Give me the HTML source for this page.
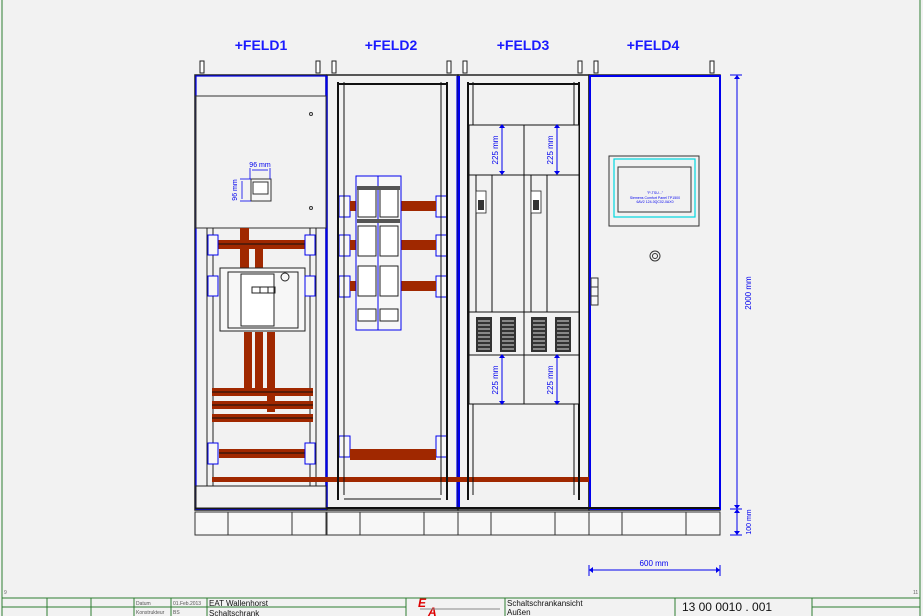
<!DOCTYPE html>
<html><head><meta charset="utf-8"><style>
html,body{margin:0;padding:0;background:#f2f2f2;}
svg{display:block;font-family:"Liberation Sans",sans-serif;}
</style></head><body>
<svg width="923" height="616" viewBox="0 0 923 616" xmlns="http://www.w3.org/2000/svg">
<rect width="923" height="616" fill="#f2f2f2"/>
<line x1="2" y1="0" x2="2" y2="616" stroke="#2e7d32" stroke-width="1"/>
<line x1="920" y1="0" x2="920" y2="616" stroke="#2e7d32" stroke-width="1"/>
<text x="4" y="594" font-size="5" fill="#666">9</text>
<text x="913" y="594" font-size="5" fill="#666">11</text>
<g fill="#1a1aff" font-size="14" font-weight="bold" text-anchor="middle">
<text x="261" y="50">+FELD1</text><text x="391" y="50">+FELD2</text>
<text x="523" y="50">+FELD3</text><text x="653" y="50">+FELD4</text>
</g>
<g fill="#fff" stroke="#222" stroke-width="1">
<rect x="200" y="61" width="4" height="12"/><rect x="316" y="61" width="4" height="12"/>
<rect x="332" y="61" width="4" height="12"/><rect x="447" y="61" width="4" height="12"/>
<rect x="463" y="61" width="4" height="12"/><rect x="578" y="61" width="4" height="12"/>
<rect x="594" y="61" width="4" height="12"/><rect x="710" y="61" width="4" height="12"/>
</g>
<g fill="#f7f7f7" stroke="#333" stroke-width="1">
<rect x="195" y="512" width="131" height="23"/><rect x="327" y="512" width="131" height="23"/>
<rect x="458" y="512" width="131" height="23"/><rect x="589" y="512" width="131" height="23"/>
</g>
<g stroke="#333" stroke-width="1">
<line x1="228" y1="512" x2="228" y2="535"/><line x1="292" y1="512" x2="292" y2="535"/>
<line x1="360" y1="512" x2="360" y2="535"/><line x1="424" y1="512" x2="424" y2="535"/>
<line x1="491" y1="512" x2="491" y2="535"/><line x1="555" y1="512" x2="555" y2="535"/>
<line x1="622" y1="512" x2="622" y2="535"/><line x1="686" y1="512" x2="686" y2="535"/>
</g>
<g fill="#f2f2f2" stroke="#222" stroke-width="1.5">
<rect x="195" y="75" width="131" height="435"/>
<rect x="327" y="75" width="131" height="435"/>
<rect x="458" y="75" width="131" height="435"/>
<rect x="589" y="75" width="131" height="435"/>
</g>
<g fill="none" stroke="#0000ee" stroke-width="1.2">
<rect x="196" y="76" width="130" height="433"/>
<line x1="327" y1="76" x2="327" y2="509"/><line x1="457" y1="76" x2="457" y2="509"/>
<rect x="590" y="76" width="130" height="433" stroke-width="2"/>
<line x1="459" y1="76" x2="459" y2="509" stroke-width="2"/>
</g>
<line x1="195" y1="508" x2="720" y2="508" stroke="#111" stroke-width="2"/>
<line x1="196" y1="96" x2="326" y2="96" stroke="#333"/>
<rect x="196" y="96" width="130" height="132" fill="#f2f2f2" stroke="#333"/>
<circle cx="311" cy="114" r="1.5" fill="none" stroke="#333"/><circle cx="311" cy="208" r="1.5" fill="none" stroke="#333"/>
<rect x="251" y="179" width="20" height="22" fill="#f7f7f7" stroke="#333"/>
<rect x="253" y="182" width="15" height="12" fill="#fff" stroke="#333"/>
<g stroke="#0000ee" fill="none" stroke-width="0.8">
<line x1="250" y1="168" x2="250" y2="179"/><line x1="270" y1="168" x2="270" y2="179"/>
<line x1="252" y1="170" x2="268" y2="170"/>
<line x1="240" y1="179" x2="251" y2="179"/><line x1="240" y1="201" x2="251" y2="201"/>
<line x1="242" y1="181" x2="242" y2="199"/>
</g>
<text x="260" y="167" font-size="7" fill="#0000ee" text-anchor="middle">96 mm</text>
<text x="237" y="190" font-size="7" fill="#0000ee" text-anchor="middle" transform="rotate(-90 237 190)">96 mm</text>
<g stroke="#222" fill="none">
<line x1="207" y1="228" x2="207" y2="486"/><line x1="213" y1="228" x2="213" y2="486"/>
<line x1="310" y1="228" x2="310" y2="486"/><line x1="316" y1="228" x2="316" y2="486"/>
<rect x="196" y="486" width="130" height="22" fill="#f2f2f2"/>
</g>
<g fill="#a02800">
<rect x="240" y="228" width="9" height="40"/>
<rect x="215" y="240" width="95" height="9"/><rect x="255" y="248" width="8" height="20"/>
<rect x="244" y="332" width="8" height="58"/><rect x="255" y="332" width="8" height="58"/><rect x="267" y="332" width="8" height="80"/>
<rect x="212" y="388" width="101" height="8"/><rect x="212" y="401" width="101" height="8"/><rect x="212" y="414" width="101" height="8"/>
<rect x="219" y="449" width="88" height="9"/>
<rect x="212" y="477" width="377" height="5"/>
</g>
<g stroke="#111" stroke-width="1">
<line x1="212" y1="392" x2="313" y2="392"/><line x1="212" y1="405" x2="313" y2="405"/><line x1="212" y1="418" x2="313" y2="418"/>
<line x1="219" y1="453" x2="307" y2="453"/><line x1="215" y1="244" x2="310" y2="244"/>
</g>
<rect x="220" y="268" width="85" height="63" fill="#f7f7f7" stroke="#222"/>
<rect x="228" y="272" width="70" height="56" fill="#f7f7f7" stroke="#222"/>
<rect x="241" y="274" width="33" height="52" fill="#fff" stroke="#222"/>
<rect x="252" y="287" width="8" height="6" fill="none" stroke="#222"/><rect x="260" y="287" width="8" height="6" fill="none" stroke="#222"/><rect x="268" y="287" width="7" height="6" fill="none" stroke="#222"/>
<circle cx="285" cy="277" r="4" fill="none" stroke="#222"/>
<g fill="#f7f7f7" stroke="#0000ee" stroke-width="1">
<rect x="208" y="235" width="10" height="20"/><rect x="305" y="235" width="10" height="20"/>
<rect x="208" y="276" width="10" height="20"/><rect x="305" y="276" width="10" height="20"/>
<rect x="208" y="443" width="10" height="21"/><rect x="305" y="443" width="10" height="21"/>
<rect x="339" y="436" width="11" height="21"/><rect x="436" y="436" width="11" height="21"/>
<rect x="339" y="196" width="11" height="21"/><rect x="436" y="196" width="11" height="21"/>
<rect x="339" y="235" width="11" height="21"/><rect x="436" y="235" width="11" height="21"/>
<rect x="339" y="276" width="11" height="21"/><rect x="436" y="276" width="11" height="21"/>
</g>
<g stroke="#111" fill="none">
<line x1="338" y1="82" x2="338" y2="500" stroke-width="2"/><line x1="447" y1="82" x2="447" y2="500" stroke-width="2"/>
<line x1="344" y1="82" x2="344" y2="495"/><line x1="441" y1="82" x2="441" y2="495"/>
<line x1="338" y1="84" x2="447" y2="84" stroke-width="2"/>
<line x1="344" y1="499" x2="441" y2="499"/>
</g>
<g fill="#a02800">
<rect x="350" y="201" width="86" height="10"/><rect x="350" y="240" width="86" height="10"/><rect x="350" y="281" width="86" height="10"/>
<rect x="350" y="449" width="86" height="11"/>
</g>
<rect x="356" y="176" width="45" height="154" fill="#f7f7f7" stroke="#0000ee"/>
<line x1="378" y1="176" x2="378" y2="330" stroke="#0000ee"/>
<g fill="#fff" stroke="#222">
<rect x="358" y="187" width="18" height="30"/><rect x="380" y="187" width="18" height="30"/>
<rect x="358" y="226" width="18" height="30"/><rect x="380" y="226" width="18" height="30"/>
<rect x="358" y="266" width="18" height="30"/><rect x="380" y="266" width="18" height="30"/>
<rect x="358" y="309" width="18" height="12"/><rect x="380" y="309" width="18" height="12"/>
</g>
<rect x="357" y="186" width="43" height="4" fill="#555"/><rect x="357" y="219" width="43" height="4" fill="#555"/>
<g stroke="#111" fill="none">
<line x1="468" y1="82" x2="468" y2="500" stroke-width="2"/><line x1="579" y1="82" x2="579" y2="500" stroke-width="2"/>
<line x1="473" y1="82" x2="473" y2="495"/><line x1="574" y1="82" x2="574" y2="495"/>
<line x1="468" y1="84" x2="579" y2="84" stroke-width="2"/>
<rect x="469" y="125" width="110" height="279" fill="#f2f2f2"/>
<line x1="469" y1="175" x2="579" y2="175"/><line x1="469" y1="312" x2="579" y2="312"/><line x1="469" y1="355" x2="579" y2="355"/>
<line x1="524" y1="125" x2="524" y2="404"/>
<line x1="476" y1="175" x2="476" y2="312"/><line x1="492" y1="175" x2="492" y2="312"/>
<line x1="531" y1="175" x2="531" y2="312"/><line x1="547" y1="175" x2="547" y2="312"/>
</g>
<g fill="#fff" stroke="#222" stroke-width="0.8"><rect x="476" y="191" width="10" height="22"/><rect x="531" y="191" width="10" height="22"/></g>
<g fill="#333"><rect x="478" y="200" width="6" height="10"/><rect x="533" y="200" width="6" height="10"/></g>
<g fill="#333">
<rect x="476" y="317" width="16" height="35"/><rect x="500" y="317" width="16" height="35"/>
<rect x="531" y="317" width="16" height="35"/><rect x="555" y="317" width="16" height="35"/>
</g>
<g stroke="#ddd" stroke-width="1">
<path d="M478 321h12M478 325h12M478 329h12M478 333h12M478 337h12M478 341h12M478 345h12M478 349h12"/>
<path d="M502 321h12M502 325h12M502 329h12M502 333h12M502 337h12M502 341h12M502 345h12M502 349h12"/>
<path d="M533 321h12M533 325h12M533 329h12M533 333h12M533 337h12M533 341h12M533 345h12M533 349h12"/>
<path d="M557 321h12M557 325h12M557 329h12M557 333h12M557 337h12M557 341h12M557 345h12M557 349h12"/>
</g>
<g stroke="#0000ee" stroke-width="1">
<line x1="502" y1="126" x2="502" y2="174"/><line x1="557" y1="126" x2="557" y2="174"/>
<line x1="502" y1="356" x2="502" y2="403"/><line x1="557" y1="356" x2="557" y2="403"/>
</g>
<g fill="#0000ee">
<path d="M499 128l3 -4 3 4z"/><path d="M499 171l3 4 3 -4z"/><path d="M554 128l3 -4 3 4z"/><path d="M554 171l3 4 3 -4z"/>
<path d="M499 358l3 -4 3 4z"/><path d="M499 401l3 4 3 -4z"/><path d="M554 358l3 -4 3 4z"/><path d="M554 401l3 4 3 -4z"/>
</g>
<g font-size="8" fill="#0000ee" text-anchor="middle">
<text x="498" y="150" transform="rotate(-90 498 150)">225 mm</text>
<text x="553" y="150" transform="rotate(-90 553 150)">225 mm</text>
<text x="498" y="380" transform="rotate(-90 498 380)">225 mm</text>
<text x="553" y="380" transform="rotate(-90 553 380)">225 mm</text>
</g>
<rect x="609" y="156" width="90" height="70" fill="#f2f2f2" stroke="#333"/>
<rect x="614" y="159" width="81" height="58" fill="none" stroke="#00d8e0" stroke-width="1.2"/>
<rect x="618" y="167" width="73" height="45" fill="#f2f2f2" stroke="#333"/>
<g font-size="3.5" fill="#0000ee" text-anchor="middle"><text x="655" y="194">"P-TSU..."</text><text x="655" y="199">Siemens Comfort Panel TP1500</text><text x="655" y="203">6AV2 124-0QC02-0AX0</text></g>
<circle cx="655" cy="256" r="5" fill="none" stroke="#333"/><circle cx="655" cy="256" r="2.5" fill="none" stroke="#333"/>
<rect x="591" y="278" width="7" height="27" fill="#f7f7f7" stroke="#333"/>
<line x1="591" y1="287" x2="598" y2="287" stroke="#333"/><line x1="591" y1="296" x2="598" y2="296" stroke="#333"/>
<g stroke="#0000ee" stroke-width="1" fill="none">
<line x1="730" y1="75" x2="742" y2="75"/><line x1="737" y1="75" x2="737" y2="535"/>
<line x1="730" y1="509" x2="742" y2="509"/><line x1="730" y1="535" x2="742" y2="535"/>
<line x1="589" y1="565" x2="589" y2="576"/><line x1="720" y1="565" x2="720" y2="576"/>
<line x1="589" y1="570" x2="720" y2="570"/>
</g>
<g fill="#0000ee">
<path d="M734 79l3 -4 3 4z"/><path d="M734 505l3 4 3 -4z"/><path d="M734 513l3 -4 3 4z"/><path d="M734 531l3 4 3 -4z"/>
<path d="M593 567l-4 3 4 3z"/><path d="M716 567l4 3 -4 3z"/>
</g>
<text x="751" y="293" font-size="8" fill="#0000ee" text-anchor="middle" transform="rotate(-90 751 293)">2000 mm</text>
<text x="751" y="522" font-size="7" fill="#0000ee" text-anchor="middle" transform="rotate(-90 751 522)">100 mm</text>
<text x="654" y="566" font-size="8" fill="#0000ee" text-anchor="middle">600 mm</text>
<g stroke="#2e7d32" stroke-width="1" fill="none">
<line x1="2" y1="598" x2="920" y2="598"/><line x1="2" y1="607" x2="406" y2="607"/><line x1="812" y1="607" x2="920" y2="607"/>
<line x1="47" y1="598" x2="47" y2="616"/><line x1="91" y1="598" x2="91" y2="616"/><line x1="134" y1="598" x2="134" y2="616"/>
<line x1="171" y1="598" x2="171" y2="616"/><line x1="207" y1="598" x2="207" y2="616"/><line x1="406" y1="598" x2="406" y2="616"/>
<line x1="505" y1="598" x2="505" y2="616"/><line x1="675" y1="598" x2="675" y2="616"/><line x1="812" y1="598" x2="812" y2="616"/>
</g>
<g font-size="5" fill="#555"><text x="136" y="605">Datum</text><text x="173" y="605">01.Feb.2013</text><text x="136" y="614">Konstrukteur</text><text x="173" y="614">BS</text></g>
<text x="209" y="606" font-size="8" fill="#111">EAT Wallenhorst</text>
<text x="209" y="616" font-size="8" fill="#111">Schaltschrank</text>
<text x="418" y="607" font-size="12" font-weight="bold" font-style="italic" fill="#d00">E</text>
<text x="428" y="616" font-size="12" font-weight="bold" font-style="italic" fill="#d00">A</text>
<line x1="420" y1="609" x2="500" y2="609" stroke="#888"/>
<text x="507" y="606" font-size="8" fill="#111">Schaltschrankansicht</text>
<text x="507" y="615" font-size="8" fill="#111">Außen</text>
<text x="727" y="611" font-size="12" fill="#111" text-anchor="middle">13 00 0010 . 001</text>
</svg>
</body></html>
